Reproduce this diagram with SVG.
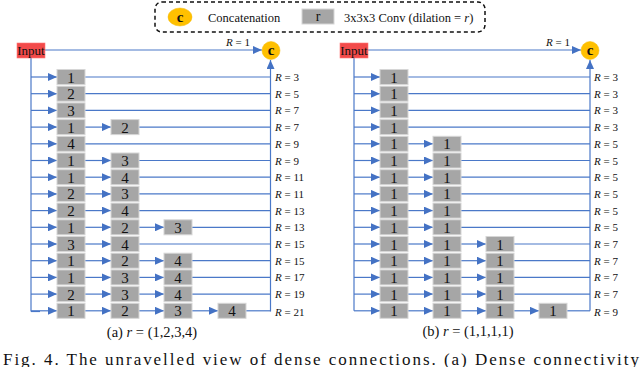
<svg xmlns="http://www.w3.org/2000/svg" xmlns:xlink="http://www.w3.org/1999/xlink" width="640" height="367" viewBox="0 0 640 367">
<style>
text{font-family:"Liberation Serif","Times New Roman",serif;fill:#111}
.box{fill:#a6a6a6;stroke:#d6d6d6;stroke-width:1}
.num{font-size:15px;text-anchor:middle}
.inp{fill:#f24a4a;stroke:#f77;stroke-width:0.6}
.cc{fill:#ffc000;stroke:#f5b800;stroke-width:0.5}
.ct{font-size:15px;text-anchor:middle;font-weight:bold}
.lbl{font-size:11px}
.ln{stroke:#4a78c8;stroke-width:1.2;fill:none}
.ar{stroke:#4a78c8;stroke-width:1.2;fill:none;marker-end:url(#ah)}
</style>
<defs>
<marker id="ah" markerUnits="userSpaceOnUse" markerWidth="9" markerHeight="8" refX="9" refY="4" orient="auto">
<path d="M0,0 L9,4 L0,8 z" fill="#4472c4"/>
</marker>
<rect id="b" class="box" width="28" height="15"/>
</defs>
<!-- legend -->
<g id="legend">
<rect x="155" y="2" width="330" height="30" rx="7" fill="none" stroke="#111" stroke-width="1.5" stroke-dasharray="4,3"/>
<ellipse class="cc" cx="180" cy="17" rx="12" ry="9"/>
<text class="ct" x="180" y="21.5" font-size="14">c</text>
<text x="208" y="21.5" font-size="12.5">Concatenation</text>
<rect class="box" x="302" y="9" width="32" height="15"/>
<text x="318" y="21" font-size="14" text-anchor="middle">r</text>
<text x="344" y="21.5" font-size="12.5">3x3x3 Conv (dilation = <tspan font-style="italic">r</tspan>)</text>
</g>
<!-- connectors -->
<g id="connectors">
<!-- left panel -->
<path class="ar" d="M45,50 H262"/>
<path class="ln" d="M31,58 V311.5"/>
<path class="ar" d="M270.5,311.5 V60"/>
<path class="ln" d="M31,311.5 H40"/>
<!-- rows left -->
<path class="ar" d="M31,77 H57"/><path class="ln" d="M85,77 H270.5"/>
<path class="ar" d="M31,93.7 H57"/><path class="ln" d="M85,93.7 H270.5"/>
<path class="ar" d="M31,110.4 H57"/><path class="ln" d="M85,110.4 H270.5"/>
<path class="ar" d="M31,127.1 H57"/><path class="ar" d="M85,127.1 H111"/><path class="ln" d="M139,127.1 H270.5"/>
<path class="ar" d="M31,143.8 H57"/><path class="ln" d="M85,143.8 H270.5"/>
<path class="ar" d="M31,160.5 H57"/><path class="ar" d="M85,160.5 H111"/><path class="ln" d="M139,160.5 H270.5"/>
<path class="ar" d="M31,177.2 H57"/><path class="ar" d="M85,177.2 H111"/><path class="ln" d="M139,177.2 H270.5"/>
<path class="ar" d="M31,193.9 H57"/><path class="ar" d="M85,193.9 H111"/><path class="ln" d="M139,193.9 H270.5"/>
<path class="ar" d="M31,210.6 H57"/><path class="ar" d="M85,210.6 H111"/><path class="ln" d="M139,210.6 H270.5"/>
<path class="ar" d="M31,227.3 H57"/><path class="ar" d="M85,227.3 H111"/><path class="ar" d="M139,227.3 H164"/><path class="ln" d="M192,227.3 H270.5"/>
<path class="ar" d="M31,244 H57"/><path class="ar" d="M85,244 H111"/><path class="ln" d="M139,244 H270.5"/>
<path class="ar" d="M31,260.7 H57"/><path class="ar" d="M85,260.7 H111"/><path class="ar" d="M139,260.7 H164"/><path class="ln" d="M192,260.7 H270.5"/>
<path class="ar" d="M31,277.4 H57"/><path class="ar" d="M85,277.4 H111"/><path class="ar" d="M139,277.4 H164"/><path class="ln" d="M192,277.4 H270.5"/>
<path class="ar" d="M31,294.1 H57"/><path class="ar" d="M85,294.1 H111"/><path class="ar" d="M139,294.1 H164"/><path class="ln" d="M192,294.1 H270.5"/>
<path class="ar" d="M31,310.8 H57"/><path class="ar" d="M85,310.8 H111"/><path class="ar" d="M139,310.8 H164"/><path class="ar" d="M192,310.8 H218"/><path class="ln" d="M246,310.8 H270.5"/>
<!-- right panel -->
<path class="ar" d="M368,50 H581"/>
<path class="ln" d="M354,57 V310.8"/>
<path class="ar" d="M590,310.8 V60"/>
<path class="ar" d="M354,77 H380"/><path class="ln" d="M408,77 H590"/>
<path class="ar" d="M354,93.7 H380"/><path class="ln" d="M408,93.7 H590"/>
<path class="ar" d="M354,110.4 H380"/><path class="ln" d="M408,110.4 H590"/>
<path class="ar" d="M354,127.1 H380"/><path class="ln" d="M408,127.1 H590"/>
<path class="ar" d="M354,143.8 H380"/><path class="ar" d="M408,143.8 H433"/><path class="ln" d="M461,143.8 H590"/>
<path class="ar" d="M354,160.5 H380"/><path class="ar" d="M408,160.5 H433"/><path class="ln" d="M461,160.5 H590"/>
<path class="ar" d="M354,177.2 H380"/><path class="ar" d="M408,177.2 H433"/><path class="ln" d="M461,177.2 H590"/>
<path class="ar" d="M354,193.9 H380"/><path class="ar" d="M408,193.9 H433"/><path class="ln" d="M461,193.9 H590"/>
<path class="ar" d="M354,210.6 H380"/><path class="ar" d="M408,210.6 H433"/><path class="ln" d="M461,210.6 H590"/>
<path class="ar" d="M354,227.3 H380"/><path class="ar" d="M408,227.3 H433"/><path class="ln" d="M461,227.3 H590"/>
<path class="ar" d="M354,244 H380"/><path class="ar" d="M408,244 H433"/><path class="ar" d="M461,244 H486"/><path class="ln" d="M514,244 H590"/>
<path class="ar" d="M354,260.7 H380"/><path class="ar" d="M408,260.7 H433"/><path class="ar" d="M461,260.7 H486"/><path class="ln" d="M514,260.7 H590"/>
<path class="ar" d="M354,277.4 H380"/><path class="ar" d="M408,277.4 H433"/><path class="ar" d="M461,277.4 H486"/><path class="ln" d="M514,277.4 H590"/>
<path class="ar" d="M354,294.1 H380"/><path class="ar" d="M408,294.1 H433"/><path class="ar" d="M461,294.1 H486"/><path class="ln" d="M514,294.1 H590"/>
<path class="ar" d="M354,310.8 H380"/><path class="ar" d="M408,310.8 H433"/><path class="ar" d="M461,310.8 H486"/><path class="ar" d="M514,310.8 H539"/><path class="ln" d="M567,310.8 H590"/>
</g>
<!-- left panel nodes -->
<g id="a-input"><rect class="inp" x="17" y="43" width="28" height="15"/><text x="31" y="54.5" font-size="13" text-anchor="middle">Input</text></g>
<g id="a-concat"><ellipse class="cc" cx="271" cy="50.5" rx="9" ry="9"/><text class="ct" x="271" y="55" font-size="14">c</text></g>
<g id="a-r1"><rect class="box" x="57" y="69.5" width="28" height="15"/><text class="num" x="71" y="82.5">1</text></g>
<g id="a-r2"><rect class="box" x="57" y="86.2" width="28" height="15"/><text class="num" x="71" y="99.2">2</text></g>
<g id="a-r3"><rect class="box" x="57" y="102.9" width="28" height="15"/><text class="num" x="71" y="115.9">3</text></g>
<g id="a-r4"><rect class="box" x="57" y="119.6" width="28" height="15"/><text class="num" x="71" y="132.6">1</text><rect class="box" x="111" y="119.6" width="28" height="15"/><text class="num" x="125" y="132.6">2</text></g>
<g id="a-r5"><rect class="box" x="57" y="136.3" width="28" height="15"/><text class="num" x="71" y="149.3">4</text></g>
<g id="a-r6"><rect class="box" x="57" y="153" width="28" height="15"/><text class="num" x="71" y="166">1</text><rect class="box" x="111" y="153" width="28" height="15"/><text class="num" x="125" y="166">3</text></g>
<g id="a-r7"><rect class="box" x="57" y="169.7" width="28" height="15"/><text class="num" x="71" y="182.7">1</text><rect class="box" x="111" y="169.7" width="28" height="15"/><text class="num" x="125" y="182.7">4</text></g>
<g id="a-r8"><rect class="box" x="57" y="186.4" width="28" height="15"/><text class="num" x="71" y="199.4">2</text><rect class="box" x="111" y="186.4" width="28" height="15"/><text class="num" x="125" y="199.4">3</text></g>
<g id="a-r9"><rect class="box" x="57" y="203.1" width="28" height="15"/><text class="num" x="71" y="216.1">2</text><rect class="box" x="111" y="203.1" width="28" height="15"/><text class="num" x="125" y="216.1">4</text></g>
<g id="a-r10"><rect class="box" x="57" y="219.8" width="28" height="15"/><text class="num" x="71" y="232.8">1</text><rect class="box" x="111" y="219.8" width="28" height="15"/><text class="num" x="125" y="232.8">2</text><rect class="box" x="164" y="219.8" width="28" height="15"/><text class="num" x="178" y="232.8">3</text></g>
<g id="a-r11"><rect class="box" x="57" y="236.5" width="28" height="15"/><text class="num" x="71" y="249.5">3</text><rect class="box" x="111" y="236.5" width="28" height="15"/><text class="num" x="125" y="249.5">4</text></g>
<g id="a-r12"><rect class="box" x="57" y="253.2" width="28" height="15"/><text class="num" x="71" y="266.2">1</text><rect class="box" x="111" y="253.2" width="28" height="15"/><text class="num" x="125" y="266.2">2</text><rect class="box" x="164" y="253.2" width="28" height="15"/><text class="num" x="178" y="266.2">4</text></g>
<g id="a-r13"><rect class="box" x="57" y="269.9" width="28" height="15"/><text class="num" x="71" y="282.9">1</text><rect class="box" x="111" y="269.9" width="28" height="15"/><text class="num" x="125" y="282.9">3</text><rect class="box" x="164" y="269.9" width="28" height="15"/><text class="num" x="178" y="282.9">4</text></g>
<g id="a-r14"><rect class="box" x="57" y="286.6" width="28" height="15"/><text class="num" x="71" y="299.6">2</text><rect class="box" x="111" y="286.6" width="28" height="15"/><text class="num" x="125" y="299.6">3</text><rect class="box" x="164" y="286.6" width="28" height="15"/><text class="num" x="178" y="299.6">4</text></g>
<g id="a-r15"><rect class="box" x="57" y="303.3" width="28" height="15"/><text class="num" x="71" y="316.3">1</text><rect class="box" x="111" y="303.3" width="28" height="15"/><text class="num" x="125" y="316.3">2</text><rect class="box" x="164" y="303.3" width="28" height="15"/><text class="num" x="178" y="316.3">3</text><rect class="box" x="218" y="303.3" width="28" height="15"/><text class="num" x="232" y="316.3">4</text></g>
<g id="a-labels" class="lbl">
<text class="lbl" x="226" y="46"><tspan font-style="italic">R</tspan> = 1</text>
<text class="lbl" x="275" y="81"><tspan font-style="italic">R</tspan> = 3</text>
<text class="lbl" x="275" y="97.7"><tspan font-style="italic">R</tspan> = 5</text>
<text class="lbl" x="275" y="114.4"><tspan font-style="italic">R</tspan> = 7</text>
<text class="lbl" x="275" y="131.1"><tspan font-style="italic">R</tspan> = 7</text>
<text class="lbl" x="275" y="147.8"><tspan font-style="italic">R</tspan> = 9</text>
<text class="lbl" x="275" y="164.5"><tspan font-style="italic">R</tspan> = 9</text>
<text class="lbl" x="275" y="181.2"><tspan font-style="italic">R</tspan> = 11</text>
<text class="lbl" x="275" y="197.9"><tspan font-style="italic">R</tspan> = 11</text>
<text class="lbl" x="275" y="214.6"><tspan font-style="italic">R</tspan> = 13</text>
<text class="lbl" x="275" y="231.3"><tspan font-style="italic">R</tspan> = 13</text>
<text class="lbl" x="275" y="248"><tspan font-style="italic">R</tspan> = 15</text>
<text class="lbl" x="275" y="264.7"><tspan font-style="italic">R</tspan> = 15</text>
<text class="lbl" x="275" y="281.4"><tspan font-style="italic">R</tspan> = 17</text>
<text class="lbl" x="275" y="298.1"><tspan font-style="italic">R</tspan> = 19</text>
<text class="lbl" x="275" y="316"><tspan font-style="italic">R</tspan> = 21</text>
<text x="152" y="337" font-size="14.5" text-anchor="middle">(a) <tspan font-style="italic">r</tspan> = (1,2,3,4)</text>
</g>
<!-- right panel nodes -->
<g id="b-input"><rect class="inp" x="340" y="43" width="28" height="15"/><text x="354" y="54.5" font-size="13" text-anchor="middle">Input</text></g>
<g id="b-concat"><ellipse class="cc" cx="590" cy="50.5" rx="9" ry="9"/><text class="ct" x="590" y="55" font-size="14">c</text></g>
<g id="b-r1"><rect class="box" x="380" y="69.5" width="28" height="15"/><text class="num" x="394" y="82.5">1</text></g>
<g id="b-r2"><rect class="box" x="380" y="86.2" width="28" height="15"/><text class="num" x="394" y="99.2">1</text></g>
<g id="b-r3"><rect class="box" x="380" y="102.9" width="28" height="15"/><text class="num" x="394" y="115.9">1</text></g>
<g id="b-r4"><rect class="box" x="380" y="119.6" width="28" height="15"/><text class="num" x="394" y="132.6">1</text></g>
<g id="b-r5"><rect class="box" x="380" y="136.3" width="28" height="15"/><text class="num" x="394" y="149.3">1</text><rect class="box" x="433" y="136.3" width="28" height="15"/><text class="num" x="447" y="149.3">1</text></g>
<g id="b-r6"><rect class="box" x="380" y="153" width="28" height="15"/><text class="num" x="394" y="166">1</text><rect class="box" x="433" y="153" width="28" height="15"/><text class="num" x="447" y="166">1</text></g>
<g id="b-r7"><rect class="box" x="380" y="169.7" width="28" height="15"/><text class="num" x="394" y="182.7">1</text><rect class="box" x="433" y="169.7" width="28" height="15"/><text class="num" x="447" y="182.7">1</text></g>
<g id="b-r8"><rect class="box" x="380" y="186.4" width="28" height="15"/><text class="num" x="394" y="199.4">1</text><rect class="box" x="433" y="186.4" width="28" height="15"/><text class="num" x="447" y="199.4">1</text></g>
<g id="b-r9"><rect class="box" x="380" y="203.1" width="28" height="15"/><text class="num" x="394" y="216.1">1</text><rect class="box" x="433" y="203.1" width="28" height="15"/><text class="num" x="447" y="216.1">1</text></g>
<g id="b-r10"><rect class="box" x="380" y="219.8" width="28" height="15"/><text class="num" x="394" y="232.8">1</text><rect class="box" x="433" y="219.8" width="28" height="15"/><text class="num" x="447" y="232.8">1</text></g>
<g id="b-r11"><rect class="box" x="380" y="236.5" width="28" height="15"/><text class="num" x="394" y="249.5">1</text><rect class="box" x="433" y="236.5" width="28" height="15"/><text class="num" x="447" y="249.5">1</text><rect class="box" x="486" y="236.5" width="28" height="15"/><text class="num" x="500" y="249.5">1</text></g>
<g id="b-r12"><rect class="box" x="380" y="253.2" width="28" height="15"/><text class="num" x="394" y="266.2">1</text><rect class="box" x="433" y="253.2" width="28" height="15"/><text class="num" x="447" y="266.2">1</text><rect class="box" x="486" y="253.2" width="28" height="15"/><text class="num" x="500" y="266.2">1</text></g>
<g id="b-r13"><rect class="box" x="380" y="269.9" width="28" height="15"/><text class="num" x="394" y="282.9">1</text><rect class="box" x="433" y="269.9" width="28" height="15"/><text class="num" x="447" y="282.9">1</text><rect class="box" x="486" y="269.9" width="28" height="15"/><text class="num" x="500" y="282.9">1</text></g>
<g id="b-r14"><rect class="box" x="380" y="286.6" width="28" height="15"/><text class="num" x="394" y="299.6">1</text><rect class="box" x="433" y="286.6" width="28" height="15"/><text class="num" x="447" y="299.6">1</text><rect class="box" x="486" y="286.6" width="28" height="15"/><text class="num" x="500" y="299.6">1</text></g>
<g id="b-r15"><rect class="box" x="380" y="303.3" width="28" height="15"/><text class="num" x="394" y="316.3">1</text><rect class="box" x="433" y="303.3" width="28" height="15"/><text class="num" x="447" y="316.3">1</text><rect class="box" x="486" y="303.3" width="28" height="15"/><text class="num" x="500" y="316.3">1</text><rect class="box" x="539" y="303.3" width="28" height="15"/><text class="num" x="553" y="316.3">1</text></g>
<g id="b-labels">
<text class="lbl" x="546" y="46"><tspan font-style="italic">R</tspan> = 1</text>
<text class="lbl" x="594" y="81"><tspan font-style="italic">R</tspan> = 3</text>
<text class="lbl" x="594" y="97.7"><tspan font-style="italic">R</tspan> = 3</text>
<text class="lbl" x="594" y="114.4"><tspan font-style="italic">R</tspan> = 3</text>
<text class="lbl" x="594" y="131.1"><tspan font-style="italic">R</tspan> = 3</text>
<text class="lbl" x="594" y="147.8"><tspan font-style="italic">R</tspan> = 5</text>
<text class="lbl" x="594" y="164.5"><tspan font-style="italic">R</tspan> = 5</text>
<text class="lbl" x="594" y="181.2"><tspan font-style="italic">R</tspan> = 5</text>
<text class="lbl" x="594" y="197.9"><tspan font-style="italic">R</tspan> = 5</text>
<text class="lbl" x="594" y="214.6"><tspan font-style="italic">R</tspan> = 5</text>
<text class="lbl" x="594" y="231.3"><tspan font-style="italic">R</tspan> = 5</text>
<text class="lbl" x="594" y="248"><tspan font-style="italic">R</tspan> = 7</text>
<text class="lbl" x="594" y="264.7"><tspan font-style="italic">R</tspan> = 7</text>
<text class="lbl" x="594" y="281.4"><tspan font-style="italic">R</tspan> = 7</text>
<text class="lbl" x="594" y="298.1"><tspan font-style="italic">R</tspan> = 7</text>
<text class="lbl" x="594" y="316"><tspan font-style="italic">R</tspan> = 9</text>
<text x="468" y="336" font-size="14.5" text-anchor="middle">(b) <tspan font-style="italic">r</tspan> = (1,1,1,1)</text>
</g>
<text x="3" y="365" font-size="17" textLength="636" lengthAdjust="spacing">Fig. 4.   The unravelled view of dense connections. (a) Dense connectivity</text>
</svg>
